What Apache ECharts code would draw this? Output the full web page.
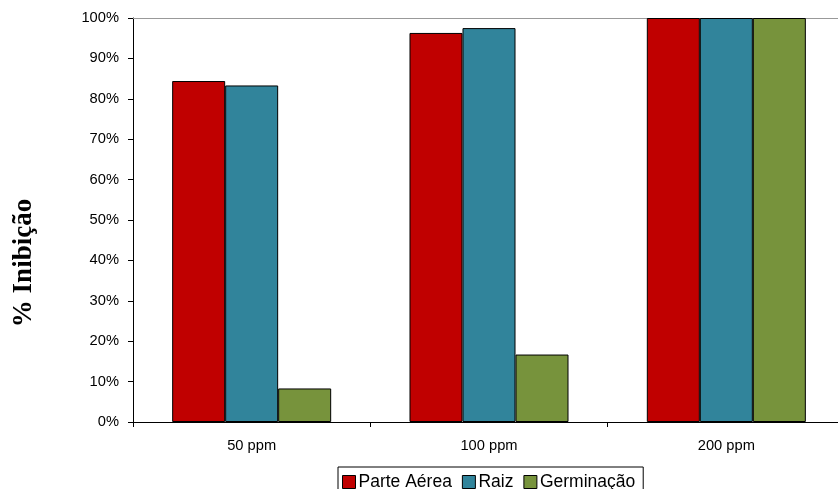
<!DOCTYPE html>
<html>
<head>
<meta charset="utf-8">
<script src="https://cdn.jsdelivr.net/npm/echarts@6/dist/echarts.min.js"></script>
<style>html,body{margin:0;padding:0;background:#fff;overflow:hidden}#c{width:845px;height:489px}</style>
</head>
<body>
<div id="c"></div>
<script>
const categories = ['50 ppm', '100 ppm', '200 ppm'];
const seriesNames = ['Parte Aérea', 'Raiz', 'Germinação'];
const parteAerea = [84.4, 96.3, 100];
const raiz = [83.3, 97.5, 100];
const germinacao = [8.3, 16.7, 100];
const colors = ['#C00000', '#31849B', '#77933C'];
const yTicks = [0, 10, 20, 30, 40, 50, 60, 70, 80, 90, 100];
const yTitle = '% Inibição';

const chart = echarts.init(document.getElementById('c'), null, {renderer: 'canvas'});
const values = [parteAerea, raiz, germinacao];
chart.setOption({
  animation: false,
  textStyle: {fontFamily: 'Liberation Sans, Arial, sans-serif'},
  grid: {left: 133, top: 18, bottom: 67, right: 0, containLabel: false},
  legend: {
    data: seriesNames,
    left: 338, top: 467,
    icon: 'rect', itemWidth: 13, itemHeight: 13, itemGap: 10,
    borderColor: '#000', borderWidth: 1, padding: [6, 8, 6, 4],
    textStyle: {fontSize: 17.5, color: '#000', padding: [0, 0, 0, -2]},
    itemStyle: {borderColor: '#000', borderWidth: 1}
  },
  graphic: [{
    type: 'text', x: 24, y: 263, rotation: Math.PI / 2,
    style: {text: yTitle, fontFamily: 'Liberation Serif, Times New Roman, serif', fontWeight: 'bold', fontSize: 27, fill: '#000', align: 'center', verticalAlign: 'middle'}
  }],
  xAxis: [{
    type: 'category', data: categories,
    axisLine: {lineStyle: {color: '#000', width: 1}},
    axisTick: {show: true, length: 5, lineStyle: {color: '#000'}},
    axisLabel: {fontSize: 14.7, color: '#000', margin: 16}
  }, {
    type: 'category', data: categories, position: 'top',
    axisLine: {show: true, lineStyle: {color: '#999', width: 1}},
    axisTick: {show: false}, axisLabel: {show: false}
  }],
  yAxis: {
    type: 'value', min: yTicks[0], max: yTicks[yTicks.length - 1], interval: 10,
    axisLine: {show: true, lineStyle: {color: '#000', width: 1}},
    axisTick: {show: true, length: 5, lineStyle: {color: '#000'}},
    splitLine: {show: false},
    axisLabel: {fontSize: 14.7, color: '#000', margin: 14, formatter: '{value}%'}
  },
  series: seriesNames.map((n, i) => ({
    name: n, type: 'bar', data: values[i],
    barGap: '0%', barCategoryGap: '33%',
    itemStyle: {color: colors[i], borderColor: '#000', borderWidth: 1}
  }))
});
</script>
</body>
</html>
